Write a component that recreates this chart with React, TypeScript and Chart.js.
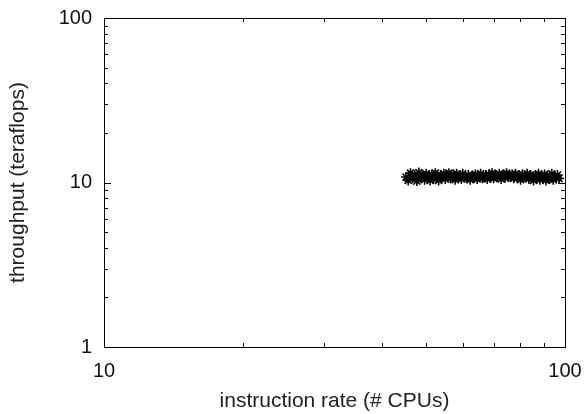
import React, { useEffect, useRef } from "react";
import { Chart, registerables } from "chart.js";

Chart.register(...registerables);

const xValues: number[] = [
  45.2, 45.7, 46.2, 46.7, 47.2, 47.7, 48.2, 48.7, 49.1, 49.6,
  50.0, 50.5, 51.0, 51.4, 51.9, 52.3, 52.8, 53.2, 53.7, 54.1,
  54.6, 55.0, 55.5, 56.0, 56.4, 56.9, 57.3, 57.8, 58.2, 58.7,
  59.1, 59.6, 60.0, 60.6, 61.2, 61.7, 62.3, 62.8, 63.4, 63.9,
  64.5, 65.0, 65.6, 66.2, 66.7, 67.3, 67.8, 68.4, 68.9, 69.5,
  70.0, 70.7, 71.4, 72.0, 72.7, 73.4, 74.1, 74.7, 75.4, 76.1,
  76.8, 77.4, 78.1, 78.8, 79.5, 80.1, 80.8, 81.5, 82.2, 82.8,
  83.5, 84.2, 84.9, 85.5, 86.2, 86.9, 87.6, 88.2, 88.9, 89.6,
  90.3, 90.9, 91.6, 92.3, 93.0, 93.6, 94.3, 95.0, 95.7, 96.3,
  97.0,
];

const yValues: number[] = [
  10.8, 10.3, 11.4, 10.6, 11.1, 10.2, 11.5, 10.7, 11.0, 10.4,
  11.3, 10.8, 10.3, 11.2, 10.6, 11.4, 10.7, 10.3, 11.1, 10.8,
  11.3, 10.5, 11.0, 11.4, 10.6, 10.8, 11.2, 10.4, 11.3, 10.7,
  10.9, 10.5, 11.3, 10.8, 10.6, 11.1, 10.4, 11.0, 10.7, 11.2,
  10.5, 10.9, 11.3, 10.6, 10.8, 11.1, 10.5, 11.2, 10.7, 11.4,
  10.6, 11.0, 10.8, 11.3, 10.5, 11.1, 10.7, 11.4, 10.8, 10.9,
  11.2, 10.6, 11.3, 10.7, 11.0, 10.4, 11.2, 10.8, 10.9, 11.3,
  10.5, 11.1, 10.7, 10.3, 11.0, 10.8, 11.3, 10.4, 10.9, 10.6,
  11.2, 10.3, 11.0, 10.5, 10.8, 11.3, 10.4, 10.9, 10.6, 11.1,
  10.6,
];

const xTickLabels: number[] = [10, 100];
const yTickLabels: number[] = [1, 10, 100];
const xMinorTicks: number[] = [20, 30, 40, 50, 60, 70, 80, 90];
const yMinorTicks: number[] = [2, 3, 4, 5, 6, 7, 8, 9, 20, 30, 40, 50, 60, 70, 80, 90];

const xTitle = "instruction rate (# CPUs)";
const yTitle = "throughput (teraflops)";

const FONT = "'Liberation Sans', Arial, Helvetica, sans-serif";

const frameTicksPlugin = {
  id: "frameTicks",
  afterDatasetsDraw(chart: any) {
    const { ctx, chartArea, scales } = chart;
    const { left, right, top, bottom } = chartArea;
    const xs = scales.x;
    const ys = scales.y;
    ctx.save();
    ctx.strokeStyle = "#000";
    ctx.lineWidth = 1;
    const line = (x1: number, y1: number, x2: number, y2: number) => {
      ctx.beginPath();
      ctx.moveTo(x1, y1);
      ctx.lineTo(x2, y2);
      ctx.stroke();
    };
    const minorLen = 4;
    const majorLen = 7;
    xMinorTicks.forEach((v) => {
      const px = Math.round(xs.getPixelForValue(v)) + 0.5;
      line(px, bottom, px, bottom - minorLen);
      line(px, top, px, top + minorLen);
    });
    xTickLabels.forEach((v) => {
      const px = Math.round(xs.getPixelForValue(v)) + 0.5;
      line(px, bottom, px, bottom - majorLen);
      line(px, top, px, top + majorLen);
    });
    yMinorTicks.forEach((v) => {
      const py = Math.round(ys.getPixelForValue(v)) + 0.5;
      line(left, py, left + minorLen, py);
      line(right, py, right - minorLen, py);
    });
    yTickLabels.forEach((v) => {
      const py = Math.round(ys.getPixelForValue(v)) + 0.5;
      line(left, py, left + majorLen, py);
      line(right, py, right - majorLen, py);
    });
    ctx.strokeRect(Math.round(left) + 0.5, Math.round(top) + 0.5, Math.round(right - left), Math.round(bottom - top));
    ctx.restore();
  },
};

export default function App() {
  const canvasRef = useRef<HTMLCanvasElement | null>(null);

  useEffect(() => {
    if (!canvasRef.current) return;
    const points = xValues.map((x, i) => ({ x, y: yValues[i] }));
    const chart = new Chart(canvasRef.current, {
      type: "scatter",
      data: {
        datasets: [
          {
            data: points,
            pointStyle: "star",
            pointRadius: 5,
            borderColor: "#000",
            backgroundColor: "#000",
            pointBorderWidth: 1.6,
          },
        ],
      },
      options: {
        responsive: false,
        animation: false,
        layout: { padding: { left: 0, top: 18, right: 23, bottom: 0 } },
        plugins: {
          legend: { display: false },
          tooltip: { enabled: false },
        },
        scales: {
          x: {
            type: "logarithmic",
            min: 10,
            max: 100,
            grid: { display: false, drawTicks: false },
            border: { display: false },
            afterBuildTicks: (scale: any) => {
              scale.ticks = xTickLabels.map((v) => ({ value: v, major: true }));
            },
            afterFit: (scale: any) => {
              scale.height = 67;
              scale.paddingLeft = 0;
              scale.paddingRight = 0;
            },
            ticks: {
              autoSkip: false,
              maxRotation: 0,
              padding: 12,
              color: "#111",
              font: { family: FONT, size: 20 },
              callback: (v: any) => String(v),
            },
            title: {
              display: true,
              text: xTitle,
              color: "#222",
              font: { family: FONT, size: 21 },
              padding: { top: 0, bottom: 0 },
            },
          },
          y: {
            type: "logarithmic",
            min: 1,
            max: 100,
            grid: { display: false, drawTicks: false },
            border: { display: false },
            afterBuildTicks: (scale: any) => {
              scale.ticks = yTickLabels.map((v) => ({ value: v, major: true }));
            },
            afterFit: (scale: any) => {
              scale.width = 104;
              scale.paddingTop = 0;
              scale.paddingBottom = 0;
            },
            ticks: {
              autoSkip: false,
              padding: 12,
              color: "#111",
              font: { family: FONT, size: 20 },
              callback: (v: any) => String(v),
            },
            title: {
              display: true,
              text: yTitle,
              color: "#222",
              font: { family: FONT, size: 21 },
              padding: { top: 6, bottom: 0 },
            },
          },
        },
      },
      plugins: [frameTicksPlugin],
    });
    return () => chart.destroy();
  }, []);

  return (
    <div style={{ position: "absolute", left: 0, top: 0, width: 588, height: 414, background: "#fff" }}>
      <canvas ref={canvasRef} width={588} height={414} />
    </div>
  );
}
